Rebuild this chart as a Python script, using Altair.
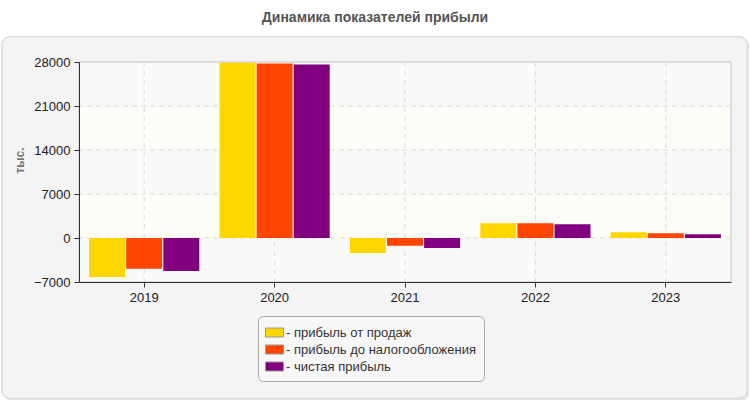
import altair as alt
import pandas as pd

years = ["2019", "2020", "2021", "2022", "2023"]
series = ["- прибыль от продаж", "- прибыль до налогообложения", "- чистая прибыль"]
sales = [-6200, 27900, -2390, 2330, 900]
pretax = [-4900, 27750, -1220, 2330, 750]
net = [-5250, 27600, -1590, 2170, 590]
ticks = [-7000, 0, 7000, 14000, 21000, 28000]
colors = ["#FFD700", "#FF4500", "#800080"]

FONT = "Arial, Liberation Sans"
W, H = 652, 220

rows = []
for s, vals in zip(series, [sales, pretax, net]):
    for y, v in zip(years, vals):
        rows.append({"year": y, "series": s, "value": v})
df = pd.DataFrame(rows)

bands = pd.DataFrame({
    "lo": ticks[:-1],
    "hi": ticks[1:],
    "fill": ["#fafafa" if i % 2 == 0 else "#fdfdf7" for i in range(len(ticks) - 1)],
})
hgrid = pd.DataFrame({"value": ticks[1:-1]})
vgrid = pd.DataFrame({"year": years})

yscale = alt.Scale(domain=[ticks[0], ticks[-1]], nice=False, zero=False)
yaxis = alt.Axis(
    values=ticks, format="d", grid=False, title="тыс.", titleFont=FONT, titleFontSize=12,
    titleFontWeight="bold", titleColor="#777", titleX=-60, titleY=98,
    titleAngle=-90, titleAlign="center", titleBaseline="middle",
    labelFont=FONT, labelFontSize=13, labelColor="#222", labelPadding=4,
    domainColor="#333", tickColor="#333", tickSize=5, zindex=1,
)
xscale = alt.Scale(domain=years, paddingInner=0.155, paddingOuter=0.0775)
xaxis = alt.Axis(
    title=None, grid=False, labelAngle=0, labelFont=FONT, labelFontSize=13,
    labelColor="#222", labelPadding=4, domainColor="#333", tickColor="#333",
    tickSize=5, zindex=1,
)

base = alt.Chart(df)

shadow = base.mark_rect(cornerRadius=8, fill="#e4e4e4").encode(
    x=alt.value(-75), x2=alt.value(670), y=alt.value(-23), y2=alt.value(338)
)
panel = base.mark_rect(cornerRadius=8, fill="#f4f4f4", stroke="#dddddd", strokeWidth=1).encode(
    x=alt.value(-77), x2=alt.value(668), y=alt.value(-25), y2=alt.value(336)
)

band_layer = alt.Chart(bands).mark_rect().encode(
    y=alt.Y("lo:Q", scale=yscale, axis=yaxis),
    y2="hi:Q",
    color=alt.Color("fill:N", scale=None),
)

hrules = alt.Chart(hgrid).mark_rule(color="#dcdcdc", strokeDash=[5, 4], strokeWidth=1).encode(
    y=alt.Y("value:Q", scale=yscale, axis=yaxis)
)
vrules = alt.Chart(vgrid).mark_rule(color="#dcdcdc", strokeDash=[5, 4], strokeWidth=1).encode(
    x=alt.X("year:N", scale=xscale, axis=xaxis)
)

border = base.mark_rect(fill=None, stroke="#dddddd", strokeWidth=1).encode(
    x=alt.value(0), x2=alt.value(W), y=alt.value(0), y2=alt.value(H)
)

bars = base.mark_bar().encode(
    x=alt.X("year:N", scale=xscale, axis=xaxis),
    xOffset=alt.XOffset("series:N", sort=series,
                        scale=alt.Scale(domain=series, paddingInner=0.03, paddingOuter=0)),
    y=alt.Y("value:Q", scale=yscale, axis=yaxis),
    color=alt.Color(
        "series:N", sort=series,
        scale=alt.Scale(domain=series, range=colors),
        legend=alt.Legend(
            title=None, orient="none", legendX=179, legendY=254,
            direction="vertical",
            symbolType="M-1,-0.5H1V0.5H-1Z", symbolSize=324,
            symbolStrokeColor="#999", symbolStrokeWidth=1,
            labelFont=FONT, labelFontSize=13, labelColor="#333", labelLimit=0,
            labelOffset=2, rowPadding=0, padding=7,
            fillColor="#f7f7f7", strokeColor="#aaaaaa", cornerRadius=5,
        ),
    ),
)

chart = alt.layer(shadow, panel, band_layer, hrules, vrules, border, bars).properties(
    width=W, height=H,
    title=alt.TitleParams(
        "Динамика показателей прибыли", font=FONT, fontSize=14, fontWeight="bold",
        color="#555", anchor="middle", dx=-30, offset=12,
    ),
    autosize=alt.AutoSizeParams(type="none"),
    padding={"left": 79, "top": 62, "right": 19, "bottom": 118},
    background="white",
).configure_view(stroke=None)

chart.save("out.html", embed_options={"renderer": "svg", "actions": False})
